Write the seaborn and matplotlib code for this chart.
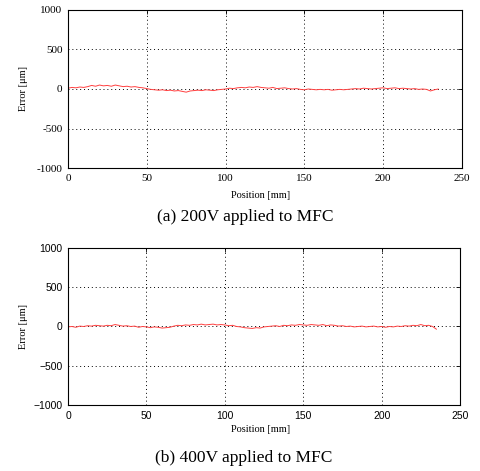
#!/usr/bin/env python3
"""
MFC印加電圧ごとの位置誤差グラフ (a) 200V / (b) 400V
"""

import pandas as pd
import matplotlib.pyplot as plt
import seaborn as sns

# 測定位置 [mm]
position = [0, 2.5, 5, 7.5, 10, 12.5, 15, 17.5, 20, 22.5,
            25, 27.5, 30, 32.5, 35, 37.5, 40, 42.5, 45, 47.5,
            50, 52.5, 55, 57.5, 60, 62.5, 65, 67.5, 70, 72.5,
            75, 77.5, 80, 82.5, 85, 87.5, 90, 92.5, 95, 97.5,
            100, 102.5, 105, 107.5, 110, 112.5, 115, 117.5, 120, 122.5,
            125, 127.5, 130, 132.5, 135, 137.5, 140, 142.5, 145, 147.5,
            150, 152.5, 155, 157.5, 160, 162.5, 165, 167.5, 170, 172.5,
            175, 177.5, 180, 182.5, 185, 187.5, 190, 192.5, 195, 197.5,
            200, 202.5, 205, 207.5, 210, 212.5, 215, 217.5, 220, 222.5,
            225, 227.5, 230, 232.5, 235]

# 誤差 [um] 200V
error_200v = [10, 20, 15, 25, 20, 30, 45, 35, 50, 40,
              45, 35, 50, 40, 30, 35, 25, 30, 20, 15,
              5, -5, -10, -15, -10, -20, -15, -25, -20, -30,
              -40, -25, -20, -15, -20, -10, -15, -20, -10, -5,
              0, 10, 5, 15, 20, 15, 25, 20, 30, 20,
              15, 10, 20, 5, 10, 15, 5, 0, 5, -5,
              -10, 0, -5, -10, -5, -10, -5, -15, -10, -5,
              -10, -5, 0, 5, 0, 10, 5, 0, 5, 10,
              15, 5, 10, 15, 5, 10, 5, 0, 5, -5,
              0, -5, -25, -10, 0]

# 誤差 [um] 400V
error_400v = [-5, 0, -10, 5, 0, 10, 5, 15, 10, 5,
              15, 10, 25, 15, 5, 10, 0, 5, -10, 0,
              -5, -15, -5, -10, -20, -15, -10, 5, 15, 10,
              20, 15, 25, 20, 30, 20, 25, 30, 20, 25,
              20, 10, 15, 0, -5, -15, -20, -25, -15, -20,
              -5, 0, 5, 10, 0, 15, 10, 20, 15, 25,
              20, 15, 25, 20, 15, 25, 10, 20, 15, 5,
              10, 0, 5, -5, 0, 5, -5, 0, 5, -5,
              0, -10, 0, -5, 5, 0, 10, 5, 15, 10,
              25, 10, 15, 0, -35]

x_ticks = [0, 50, 100, 150, 200, 250]
y_ticks = [-1000, -500, 0, 500, 1000]

SERIF = 'Liberation Serif'
SANS = 'Liberation Sans'


def draw_panel(ax, df, caption, tick_family, tick_size, minus, xlab_y, cap_y):
    """1枚分のグラフを描画"""
    sns.lineplot(data=df, x='Position', y='Error', ax=ax,
                 color='#ff4040', linewidth=0.7, estimator=None, sort=False)

    ax.set_xlim(0, 250)
    ax.set_ylim(-1000, 1000)
    ax.set_xticks(x_ticks)
    ax.set_yticks(y_ticks)
    ax.set_xticklabels([str(v) for v in x_ticks], family=tick_family,
                       fontsize=tick_size, color='black')
    ylabels = [str(v).replace('-', minus) for v in y_ticks]
    ax.set_yticklabels(ylabels, family=tick_family, fontsize=tick_size, color='black')
    ax.tick_params(direction='in', length=3, width=0.6, pad=4,
                   top=True, right=True, colors='black')

    ax.grid(True, linestyle=(0, (1, 3)), color='black', linewidth=0.7)
    for sp in ax.spines.values():
        sp.set_visible(True)
        sp.set_color('black')
        sp.set_linewidth(0.8)

    ax.set_xlabel('Position [mm]', family=SERIF, fontsize=7.5, color='black')
    ax.set_ylabel('Error [μm]', family=SERIF, fontsize=7.5, color='black')
    ax.xaxis.set_label_coords(0.49, xlab_y)
    ax.yaxis.set_label_coords(-0.102, 0.5)

    # キャプション
    ax.text(0.449, cap_y, caption, transform=ax.transAxes, ha='center', va='top',
            family=SERIF, fontsize=12.5, color='black')


def main():
    sns.set_style('white')

    df_a = pd.DataFrame({'Position': position, 'Error': error_200v})
    df_b = pd.DataFrame({'Position': position, 'Error': error_400v})

    fig = plt.figure(figsize=(4.81, 4.71), dpi=100)
    ax1 = fig.add_axes([0.1414, 0.6433, 0.819, 0.3355])
    ax2 = fig.add_axes([0.1414, 0.1401, 0.815, 0.3334])

    draw_panel(ax1, df_a, '(a) 200V applied to MFC', SERIF, 8, '-', -0.148, -0.258)
    draw_panel(ax2, df_b, '(b) 400V applied to MFC', SANS, 7.5, '\u2212', -0.13, -0.285)

    fig.savefig('out.png', dpi=100)
    plt.close(fig)


if __name__ == '__main__':
    main()
